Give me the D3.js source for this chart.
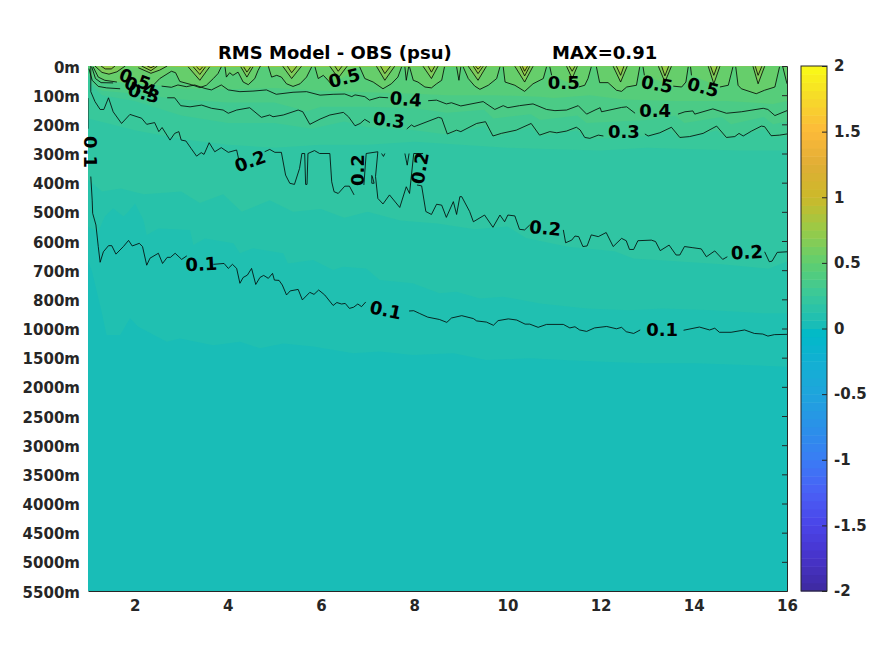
<!DOCTYPE html>
<html>
<head>
<meta charset="utf-8">
<script src="https://cdnjs.cloudflare.com/ajax/libs/d3/7.8.5/d3.min.js"></script>
<style>
body { margin: 0; background: white; }
text { font-family: "DejaVu Sans", sans-serif; font-weight: bold; }
</style>
</head>
<body>
<script>
// depth labels, evenly spaced on the axis
const depthLabels = ["0m","100m","200m","300m","400m","500m","600m","700m","800m","1000m","1500m","2000m","2500m","3000m","3500m","4000m","4500m","5000m","5500m"];
const yearTicks = [2,4,6,8,10,12,14,16];
const barTicks = [-2,-1.5,-1,-0.5,0,0.5,1,1.5,2];

// colormap of the colorbar
const cmapValues = [-2,-1.75,-1.5,-1.25,-1,-0.75,-0.5,-0.25,-0.04,0.03,0.25,0.5,0.75,1,1.25,1.5,1.75,2];
const cmapColors = ["#3e2a9f","#4733c9","#4a44e8","#4a5ff5","#3a7cf5","#2a90e8","#1fa4dc","#12b0d2","#00b9c8","#19bdb7","#38c89b","#5fce70","#98cb48","#cbb92a","#e0ae35","#fdb93a","#f6d92a","#f9fb15"];

// contour lines : [year, depth level], null = gap under a label
const line01 = [[1,1.1],[1,2.15],null,
[1.06,3.79],[1.09,4.6],[1.10,5.05],[1.17,5.45],[1.22,6.19],[1.26,6.73],[1.33,6.37],[1.44,6.16],[1.51,6.16],[1.60,6.45],[1.76,6.19],[1.87,5.98],[1.95,6.17],[2.10,6.08],[2.17,6.19],[2.26,6.83],[2.33,6.59],[2.51,6.42],[2.60,6.77],[2.70,6.56],[2.77,6.56],[2.87,6.42],[3.01,6.63],[3.12,6.51],null,
[3.69,6.80],[3.92,6.77],[4.01,6.94],[4.10,6.80],[4.19,6.94],[4.26,7.45],[4.33,7.25],[4.42,7.17],[4.51,6.94],[4.60,7.49],[4.69,7.25],[4.77,7.18],[4.87,7.28],[4.96,7.11],[5.00,7.34],[5.10,7.35],[5.17,7.51],[5.26,7.85],[5.34,7.71],[5.51,7.66],[5.60,8.02],[5.76,7.76],[5.85,7.83],[5.95,7.68],[6.08,7.85],[6.26,8.21],[6.34,8.11],[6.44,8.16],[6.52,8.14],[6.61,8.31],[6.70,8.27],[6.79,8.16],[6.87,8.25],[6.96,8.09],null,
[7.89,8.40],[7.99,8.39],[8.11,8.48],[8.29,8.61],[8.54,8.69],[8.70,8.79],[8.80,8.64],[9.02,8.56],[9.27,8.66],[9.34,8.74],[9.55,8.78],[9.70,8.89],[9.80,8.73],[10.02,8.67],[10.20,8.71],[10.38,8.85],[10.48,8.85],[10.66,8.96],[10.84,8.86],[11.20,8.86],[11.34,8.98],[11.45,8.94],[11.55,9.05],[11.70,9.10],[11.87,8.98],[12.13,8.93],[12.34,9.01],[12.45,8.96],[12.55,9.11],[12.71,9.17],[12.85,9.05],null,
[13.78,9.06],[14.12,8.95],[14.34,9.05],[14.45,8.99],[14.55,9.13],[14.80,9.13],[15.09,9.05],[15.30,9.17],[15.48,9.19],[15.59,9.26],[15.73,9.21],[16,9.2]];

const line02 = [[1.06,0],[1.06,0.88],[1.15,1.22],[1.26,1.49],[1.34,1.49],[1.44,1.09],[1.54,1.57],[1.72,1.97],[1.90,1.66],[2.15,1.79],[2.26,2.00],[2.43,1.94],[2.52,2.25],[2.59,2.11],[2.76,2.54],[2.86,2.31],[2.95,2.25],[3.00,2.54],[3.10,2.57],[3.21,2.82],[3.33,3.09],[3.43,2.97],[3.49,3.03],[3.60,2.63],[3.72,2.94],[3.86,2.80],[4.01,2.96],[4.19,2.88],[4.23,3.17],null,
[4.79,2.94],[4.90,2.86],[5.01,2.96],[5.15,2.96],[5.24,3.74],[5.33,4.02],[5.43,4.06],[5.54,3.51],[5.59,3.00],[5.65,3.00],[5.67,4.06],[5.70,4.06],[5.72,3.00],[5.86,2.90],[5.97,3.00],[6.19,3.00],[6.23,3.97],[6.28,4.31],[6.37,4.37],[6.51,4.12],[6.61,4.12],[6.71,4.42],null,
[6.92,4.08],[6.97,3.0],[7.22,2.94],[7.17,3.79],[7.22,4.54],[7.33,4.73],[7.47,4.42],[7.69,4.85],[7.83,4.14],[7.90,4.37],[7.99,3.0],[8.19,3.0],null,
[7.09,3.74],[7.09,4.02],[7.14,4.02],[7.10,3.78],null,
[7.30,3.0],[7.34,3.1],[7.37,3.0],null,
[7.80,3.0],[7.85,3.40],[7.89,3.0],null,
[8.06,4.08],[8.16,4.11],[8.25,4.99],[8.37,5.09],[8.48,4.74],[8.59,4.77],[8.69,5.19],[8.84,4.65],[8.91,5.09],[8.98,4.48],[9.02,4.48],[9.19,4.99],[9.27,5.34],[9.51,5.11],[9.69,5.53],[9.84,5.11],[9.94,5.34],[10.01,5.11],[10.16,5.14],[10.26,5.60],[10.37,5.62],[10.48,5.45],null,
[11.2,5.62],[11.25,6.06],[11.38,5.97],[11.45,5.83],[11.53,5.85],[11.62,6.19],[11.71,6.17],[11.80,5.79],[11.95,5.85],[12.12,5.71],[12.27,6.19],[12.45,5.91],[12.55,5.99],[12.62,6.29],[12.71,6.29],[12.80,5.99],[13.09,5.97],[13.18,6.02],[13.28,6.33],[13.47,6.14],[13.62,6.48],[13.70,6.48],[13.80,6.19],[13.98,6.23],[14.16,6.27],[14.27,6.54],[14.45,6.34],[14.62,6.63],[14.72,6.54],null,
[15.52,6.37],[15.62,6.71],[15.68,6.69],[15.79,6.39],[16,6.37]];

const line03 = [[1.02,0.09],[1.09,0.49],[1.22,0.70],[1.40,0.75],[1.69,0.78],null,
[2.70,1.09],[2.86,1.09],[2.99,1.36],[3.19,1.40],[3.44,1.34],[3.65,1.45],[3.90,1.51],[4.01,1.62],[4.19,1.51],[4.47,1.43],[4.72,1.76],[4.90,1.68],[4.97,1.74],[5.19,1.68],[5.51,1.51],[5.61,1.57],[5.76,2.00],[5.98,1.82],[6.19,1.68],[6.48,1.59],[6.59,1.74],[6.73,2.05],[6.84,1.97],[6.94,1.83],[7.05,1.94],null,
[7.84,2.16],[7.94,2.02],[8.0,2.08],[8.52,1.76],[8.59,1.79],[8.71,2.33],[8.91,2.20],[9.0,2.25],[9.34,1.97],[9.53,1.91],[9.69,2.40],[9.87,2.31],[10.19,2.20],[10.51,1.97],[10.69,2.37],[10.91,2.25],[11.06,2.29],[11.27,2.23],[11.48,2.10],[11.56,2.19],[11.66,2.45],[11.77,2.48],[11.95,2.37],[12.06,2.40],null,
[12.95,2.33],[13.02,2.40],[13.27,2.29],[13.52,2.10],[13.70,2.45],[13.91,2.42],[14.2,2.31],[14.49,2.06],[14.70,2.45],[14.88,2.42],[14.97,2.31],[15.06,2.40],[15.24,2.23],[15.45,2.06],[15.52,2.08],[15.66,2.39],[15.84,2.37],[16,2.33]];

const line04 = [[1.08,0.03],[1.16,0.43],[1.28,0.57],[1.54,0.58],null,
[2.58,0.69],[2.79,0.73],[2.93,0.65],[3.11,0.71],[3.29,0.65],[3.51,0.77],[3.65,0.82],[3.86,0.65],[4.01,0.82],[4.26,0.88],[4.54,0.86],[4.83,0.82],[5.04,0.97],[5.40,0.90],[5.69,0.88],[5.98,1.0],[6.26,0.97],[6.51,0.96],[6.66,1.05],[6.73,0.99],[6.94,1.05],[7.04,1.17],[7.26,1.07],[7.44,1.09],null,
[8.30,1.19],[8.48,1.17],[8.69,1.30],[8.80,1.26],[9.0,1.37],[9.48,1.22],[9.73,1.49],[9.91,1.36],[10.01,1.43],[10.26,1.36],[10.55,1.30],[10.84,1.49],[11.02,1.53],[11.27,1.51],[11.52,1.36],[11.70,1.65],[11.88,1.51],[11.99,1.43],[12.02,1.57],[12.45,1.42],[12.56,1.40],[12.74,1.62],null,
[13.66,1.65],[13.81,1.57],[13.98,1.54],[14.02,1.65],[14.41,1.47],[14.70,1.62],[15.02,1.57],[15.49,1.45],[15.59,1.49],[15.74,1.70],[16,1.53]];

const line05 = [[1.11,0.03],[1.22,0.38],[1.36,0.49],[1.62,0.55],null,
[2.40,0.66],[2.54,0.43],[2.79,0.18],[2.88,0.23],[2.97,0.53],[3.22,0.64],[3.40,0.74],[3.54,0.66],[3.69,0.43],[3.79,0.26],[3.86,0.03],null,
[3.94,0.03],[3.97,0.38],[4.04,0.23],[4.11,0.32],[4.22,0.21],[4.33,0.55],[4.44,0.64],[4.58,0.43],[4.65,0.15],[4.70,0],null,
[4.87,0.01],[4.94,0.38],[5.05,0.32],[5.15,0.38],[5.26,0.61],[5.40,0.70],[5.55,0.61],[5.69,0.38],[5.80,0.03],null,
[5.87,0.03],[5.94,0.43],[6.05,0.32],[6.15,0.49],[6.23,0.64],null,
[6.83,0.03],[6.94,0.43],[7.12,0.55],[7.33,0.78],[7.51,0.61],[7.65,0.38],[7.73,0.03],null,
[7.80,0.03],[7.83,0.49],[7.88,0.03],null,
[7.90,0.03],[7.98,0.49],[8.08,0.55],[8.23,0.72],[8.37,0.75],[8.48,0.61],[8.59,0.49],[8.65,0.03],null,
[8.91,0.03],[8.96,0.49],[9.0,0.03],null,
[9.05,0.03],[9.16,0.43],[9.30,0.69],[9.41,0.80],[9.59,0.66],[9.77,0.43],[9.84,0.03],null,
[9.91,0.03],[9.95,0.55],[10.16,0.66],[10.37,0.87],[10.55,0.61],[10.77,0.43],[10.84,0.03],null,
[10.91,0.03],[10.95,0.32],null,
[11.53,0.72],[11.66,0.66],[11.73,0.43],[11.80,0.03],null,
[11.91,0.03],[11.98,0.57],[12.16,0.57],[12.34,0.83],[12.45,0.87],[12.56,0.72],[12.77,0.66],[12.84,0.03],null,
[12.91,0.03],[12.94,0.32],null,
[13.56,0.69],[13.74,0.72],[13.83,0.55],[13.88,0.03],null,
[13.93,0.03],[13.95,0.32],null,
[14.56,0.72],[14.74,0.66],[14.84,0.03],null,
[14.90,0.03],[14.95,0.66],[15.02,0.78],[15.34,0.95],[15.52,0.83],[15.74,0.72],[15.84,0.03],null,
[15.91,0.03],[16,0.61]];

const line06 = [[1.15,0],[1.3,0.22],[1.45,0.28],[1.62,0.2],[1.8,0],null,
[2.08,0.06],[2.35,0.25],[2.54,0.14],[2.70,0],null,
[3.15,0.03],[3.40,0.49],[3.61,0.03],null,
[4.28,0.03],[4.41,0.38],[4.54,0.03],null,
[5.18,0.01],[5.37,0.43],[5.58,0.01],null,
[6.19,0.01],[6.37,0.41],[6.56,0.01],null,
[7.19,0.01],[7.37,0.49],[7.58,0.01],null,
[8.19,0.01],[8.37,0.43],[8.51,0.01],null,
[9.16,0.01],[9.37,0.49],[9.55,0.01],null,
[10.16,0.01],[10.37,0.55],[10.55,0.01],null,
[11.27,0.01],[11.39,0.43],[11.50,0.01],null,
[12.27,0.01],[12.43,0.55],[12.57,0.01],null,
[13.24,0.01],[13.38,0.55],[13.52,0.01],null,
[14.31,0.01],[14.43,0.61],[14.56,0.01],null,
[15.27,0.01],[15.38,0.61],[15.52,0.01]];

const line07 = [[1.28,0],[1.37,0.1],[1.5,0.1],[1.58,0],null,
[2.15,0],[2.35,0.16],[2.49,0],null,
[3.26,0.03],[3.40,0.29],[3.52,0.03],null,
[4.34,0.03],[4.41,0.21],[4.49,0.03],null,
[5.28,0.01],[5.37,0.23],[5.48,0.01],null,
[6.30,0.01],[6.37,0.18],[6.45,0.01],null,
[7.28,0.01],[7.37,0.26],[7.49,0.01],null,
[8.30,0.01],[8.37,0.21],[8.44,0.01],null,
[9.27,0.01],[9.37,0.26],[9.48,0.01],null,
[10.27,0.01],[10.37,0.34],[10.48,0.01],null,
[11.33,0.01],[11.39,0.18],[11.45,0.01],null,
[12.34,0.01],[12.43,0.32],[12.50,0.01],null,
[13.31,0.01],[13.38,0.34],[13.46,0.01],null,
[14.36,0.01],[14.43,0.32],[14.50,0.01],null,
[15.32,0.01],[15.38,0.32],[15.46,0.01]];

const line08 = [[2.27,0],[2.35,0.06],[2.43,0],null,
[3.33,0.03],[3.40,0.14],[3.46,0.03],null,
[9.32,0.01],[9.37,0.11],[9.43,0.01],null,
[10.32,0.01],[10.37,0.18],[10.43,0.01]];

// limits of the colour bands (no contour line on them)
const band005 = [[1,6.7],[1.08,7.0],[1.26,8.2],[1.40,9.22],[1.69,9.22],[1.90,8.65],[2.08,8.94],[2.69,9.45],[2.97,9.34],[3.69,9.57],[4.26,9.45],[4.69,9.68],[5.19,9.51],[5.83,9.62],[6.69,9.85],[7.26,9.79],[7.97,9.91],[8.84,9.85],[9.55,10.08],[10.48,10.02],[11.2,10.08],[12.05,10.14],[12.98,10.19],[14.05,10.19],[15.12,10.25],[16,10.31]];
const band012 = [[1,5.5],[1.22,5.68],[1.36,5.16],[1.54,4.88],[1.76,5.16],[1.87,4.99],[2.01,4.71],[2.19,5.28],[2.26,5.79],[2.51,5.57],[3.19,5.62],[3.26,6.14],[3.51,5.91],[4.12,6.08],[4.26,6.42],[4.54,6.25],[5.19,6.42],[5.29,6.77],[5.83,6.65],[6.26,6.99],[6.47,6.88],[6.97,6.94],[7.26,7.34],[7.97,7.45],[8.54,7.79],[8.91,7.74],[9.41,7.97],[9.91,7.91],[10.70,8.14],[11.70,8.31],[12.62,8.37],[13.34,8.31],[14.41,8.37],[15.48,8.48],[16,8.48]];
const band019 = [[1,3.9],[1.3,4.3],[1.7,4.2],[2.2,4.4],[3,4.3],[3.4,4.7],[3.9,4.4],[4.3,5.0],[4.9,4.6],[5.4,5.0],[6,4.9],[6.5,5.2],[7,5.0],[7.7,5.3],[8.5,5.4],[9.3,5.6],[10,5.5],[10.4,5.9],[11.3,6.2],[12.3,6.35],[12.7,6.6],[13.7,6.7],[14.6,6.8],[15.6,6.95],[16,6.7]];
const band025 = [[1,1.8],[1.5,2.0],[2,2.2],[3,2.5],[4,2.7],[5,2.8],[6,2.7],[7,2.7],[8,2.6],[9,2.7],[10,2.8],[11,2.85],[12,2.9],[13,2.8],[14,2.85],[15,2.9],[16,2.9]];
const band031 = [[1,0.3],[1.1,0.7],[1.3,1.0],[2,1.2],[3,1.7],[4,1.95],[5,1.95],[5.8,2.15],[6.5,1.9],[7,2.1],[8,2.2],[8.7,2.35],[9.5,2.05],[9.7,2.45],[10.5,2.1],[10.7,2.4],[11.5,2.2],[11.7,2.5],[13,2.4],[13.5,2.2],[13.7,2.5],[14.5,2.2],[14.7,2.5],[15.5,2.15],[15.7,2.45],[16,2.4]];
const band037 = [[1,0.2],[1.1,0.6],[1.3,0.85],[2,0.95],[3,1.15],[4,1.25],[5,1.25],[5.7,1.55],[6,1.4],[7,1.4],[8,1.45],[8.7,1.6],[9.5,1.5],[9.7,1.8],[10.5,1.65],[10.7,1.85],[11.5,1.7],[11.7,1.95],[13,1.85],[13.6,1.7],[13.8,1.95],[14.6,1.75],[14.8,2.0],[15.5,1.75],[15.7,2.0],[16,1.9]];
const band044 = [[1,0.1],[1.1,0.4],[1.3,0.55],[2,0.55],[3,0.78],[4,0.8],[5,0.75],[6,0.85],[7,0.9],[8,0.95],[8.7,1.0],[9.7,1.0],[10.7,1.05],[11,1.1],[11.77,1.0],[12.5,1.15],[13.6,1.2],[14.7,1.2],[15.7,1.3],[16,1.2]];

// contour labels : text, year, depth level, angle
const labelText = ["0.5","0.4","0.3","0.5","0.5","0.5","0.5","0.4","0.4","0.3","0.3","0.2","0.2","0.2","0.2","0.2","0.1","0.1","0.1","0.1"];
const labelYear = [2.01,2.12,2.2,6.5,11.21,13.21,14.2,7.82,13.17,7.46,12.5,4.48,6.79,8.12,10.81,15.14,1.06,3.43,7.39,13.32];
const labelLevel = [0.45,0.72,0.93,0.41,0.58,0.62,0.72,1.13,1.54,1.85,2.23,3.26,3.57,3.5,5.55,6.38,2.95,6.79,8.36,9.05];
const labelAngle = [20,20,15,-15,0,10,15,5,0,8,0,-20,-90,-80,5,-3,90,-3,12,0];

//////////////////////////////////////////////////////////////////////////////
const svg = d3.select("body").append("svg")
    .attr("width", 875)
    .attr("height", 656);

const left = 88, right = 787, top_ = 66, bottom = 591;
const x = d3.scaleLinear().domain([1,16]).range([left,right]);
const y = d3.scaleLinear().domain([0,18]).range([top_,bottom]);
const yLabels = d3.scalePoint().domain(depthLabels).range([top_,bottom]);
const colorOf = d3.scaleLinear().domain(cmapValues).range(cmapColors);

svg.append("clipPath").attr("id","plot").append("rect")
    .attr("x",left).attr("y",top_).attr("width",right-left).attr("height",bottom-top_);
const plot = svg.append("g").attr("clip-path","url(#plot)");

// filled bands, from the deep one to the surface
plot.append("rect")
    .attr("x",left).attr("y",top_).attr("width",right-left).attr("height",bottom-top_)
    .attr("fill",colorOf(0.03));

const noGap = l => l.filter(d => d);
const fills = [
  {v:0.08, d:band005},{v:0.13, d:band012},{v:0.19, d:band019},{v:0.25, d:band025},
  {v:0.31, d:band031},{v:0.37, d:band037},{v:0.44, d:band044},
  {v:0.53, d:noGap(line05)},{v:0.64, d:noGap(line06)},{v:0.74, d:noGap(line07)},{v:0.84, d:noGap(line08)}
];
const area = d3.area().x(d => x(d[0])).y0(y(0)).y1(d => y(d[1]));
plot.selectAll("path.band").data(fills).enter().append("path")
    .attr("class","band")
    .attr("fill",d => colorOf(d.v))
    .attr("d",d => area(d.d));

// contour lines
const line = d3.line().defined(d => d).x(d => x(d[0])).y(d => y(d[1]));
plot.selectAll("path.cont").data([line01,line02,line03,line04,line05,line06,line07,line08]).enter().append("path")
    .attr("class","cont")
    .attr("fill","none")
    .attr("stroke","black")
    .attr("stroke-width",0.8)
    .attr("d",line);

// contour labels
svg.selectAll("text.clabel").data(labelText).enter().append("text")
    .attr("class","clabel")
    .attr("text-anchor","middle")
    .attr("dominant-baseline","central")
    .attr("font-size",18)
    .attr("fill","black")
    .attr("transform",(d,i) => `translate(${x(labelYear[i])},${y(labelLevel[i])}) rotate(${labelAngle[i]})`)
    .text(d => d);

// axes
const axisColor = "#262626";
const gx = svg.append("g").attr("transform",`translate(0,${bottom})`)
    .call(d3.axisBottom(x).tickValues(yearTicks).tickSize(0).tickPadding(9));
const gy = svg.append("g").attr("transform",`translate(${left},0)`)
    .call(d3.axisLeft(yLabels).tickSize(0).tickPadding(8));
gy.select(".domain").remove();
const gr = svg.append("g").attr("transform",`translate(${right},0)`)
    .call(d3.axisRight(yLabels).tickSize(-5).tickFormat(""));
[gx,gy,gr].forEach(g => {
  g.selectAll("text").attr("font-size",15).attr("font-family",null).attr("fill",axisColor);
  g.selectAll("path,line").attr("stroke",axisColor);
});
gy.selectAll("text").attr("dy","0.4em");

// colorbar
const barLeft = 801, barRight = 827;
const yBar = d3.scaleLinear().domain([-2,2]).range([bottom,top_]);
const steps = d3.range(64).map(i => -2 + i/16);
svg.selectAll("rect.step").data(steps).enter().append("rect")
    .attr("class","step")
    .attr("x",barLeft)
    .attr("width",barRight-barLeft)
    .attr("y",d => yBar(d+1/16))
    .attr("height",d => yBar(d)-yBar(d+1/16)+0.5)
    .attr("fill",d => colorOf(d+1/32));
const gb = svg.append("g").attr("transform",`translate(${barRight},0)`)
    .call(d3.axisRight(yBar).tickValues(barTicks).tickSize(-5).tickPadding(7).tickFormat(d => d));
gb.selectAll("text").attr("font-size",15).attr("fill",axisColor);
gb.selectAll("line").attr("stroke",axisColor);
gb.select(".domain").remove();
svg.append("rect")
    .attr("x",barLeft).attr("y",top_).attr("width",barRight-barLeft).attr("height",bottom-top_)
    .attr("fill","none").attr("stroke",axisColor);

// title
svg.append("text").attr("x",218).attr("y",59).attr("font-size",18).attr("fill","black").text("RMS Model - OBS (psu)");
svg.append("text").attr("x",552).attr("y",59).attr("font-size",18).attr("fill","black").text("MAX=0.91");
</script>
</body>
</html>
